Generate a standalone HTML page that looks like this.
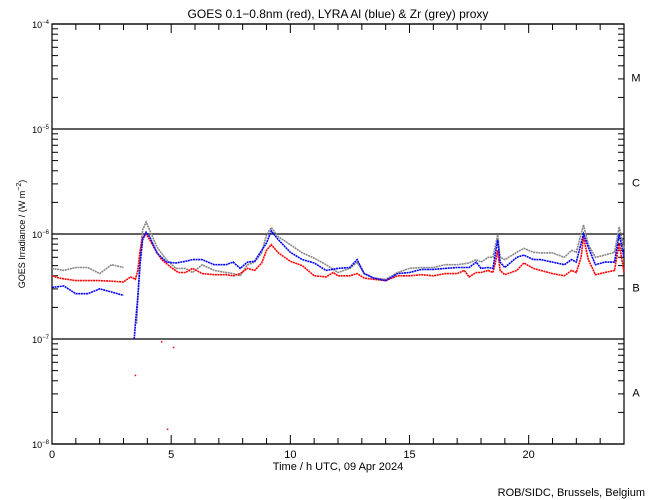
<!DOCTYPE html>
<html><head><meta charset="utf-8"><style>
body{margin:0;background:#fff;}
svg{display:block;font-family:"Liberation Sans",sans-serif;}
</style></head><body>
<svg id="chart" width="650" height="500" viewBox="0 0 650 500" xmlns="http://www.w3.org/2000/svg">
<rect width="650" height="500" fill="#fff"/>
<text x="338" y="18" font-size="12" text-anchor="middle">GOES 0.1−0.8nm (red), LYRA Al (blue) &amp; Zr (grey) proxy</text>
<g id="axes"></g>
<g id="series"></g>
<text x="338" y="470" font-size="11" text-anchor="middle">Time / h UTC, 09 Apr 2024</text>
<text x="0" y="0" font-size="9" text-anchor="middle" transform="translate(25,234) rotate(-90)">GOES Irradiance / (W m<tspan dy="-4" font-size="7">−2</tspan><tspan dy="4">)</tspan></text>
<text x="645" y="496" font-size="11" text-anchor="end">ROB/SIDC, Brussels, Belgium</text>
</svg>
<script>
const classLabels=["M","C","B","A"];
const decadeExps=[-4,-5,-6,-7,-8];
const xTickLabels=[0,5,10,15,20];
const redT=[0,0.3,1,2,3,3.3,3.5,3.6,3.7,3.8,3.95,4.1,4.3,4.6,5,5.3,5.6,5.9,6.3,6.8,7.3,7.6,7.9,8.2,8.5,8.8,9,9.2,9.5,10,10.5,11,11.5,11.8,12,12.5,12.8,13.1,13.5,14,14.5,15,15.5,16,16.5,17,17.3,17.5,17.8,18,18.3,18.5,18.6,18.7,18.8,19,19.5,19.8,20.2,20.5,21,21.5,21.8,22,22.2,22.3,22.5,22.8,23.2,23.6,23.8,24];
const redV=[0.40,0.38,0.36,0.36,0.35,0.39,0.37,0.45,0.70,0.92,1.0,0.88,0.73,0.57,0.48,0.43,0.43,0.47,0.42,0.41,0.41,0.40,0.42,0.47,0.45,0.53,0.70,0.79,0.66,0.55,0.50,0.40,0.39,0.43,0.40,0.40,0.42,0.38,0.37,0.36,0.40,0.40,0.41,0.40,0.42,0.42,0.45,0.39,0.43,0.43,0.45,0.43,0.53,0.70,0.45,0.41,0.45,0.53,0.47,0.45,0.42,0.40,0.45,0.43,0.60,0.94,0.57,0.41,0.43,0.45,0.82,0.43];
const blueT=[0,0.5,1,1.5,2,2.5,3,null,3.45,3.5,3.6,3.7,3.8,3.95,4.1,4.4,4.8,5.2,5.6,5.9,6.3,6.8,7.3,7.6,7.9,8.2,8.5,8.8,9,9.2,9.5,10,10.5,11,11.5,12,12.5,12.8,13.1,13.5,14,14.5,15,15.5,16,16.5,17,17.5,17.8,18,18.3,18.5,18.7,18.8,19,19.5,19.8,20.2,20.5,21,21.5,21.8,22,22.3,22.5,22.8,23.2,23.6,23.8,24];
const blueV=[0.31,0.32,0.27,0.27,0.30,0.28,0.26,null,0.10,0.14,0.25,0.53,0.88,1.04,0.94,0.66,0.54,0.53,0.55,0.57,0.57,0.51,0.51,0.54,0.47,0.54,0.55,0.70,0.82,1.07,0.88,0.67,0.57,0.53,0.45,0.47,0.48,0.57,0.42,0.38,0.36,0.42,0.43,0.46,0.46,0.47,0.48,0.48,0.54,0.47,0.48,0.47,0.88,0.54,0.48,0.60,0.63,0.57,0.57,0.54,0.51,0.57,0.54,1.0,0.75,0.51,0.54,0.54,1.0,0.60];
const greyT=[0,0.5,1,1.5,2,2.5,3,null,3.55,3.7,3.8,3.95,4.1,4.4,4.8,5.2,5.6,5.9,6.3,6.8,7.3,7.6,7.9,8.2,8.5,8.8,9,9.2,9.5,10,10.5,11,11.5,12,12.5,12.8,13.1,13.5,14,14.5,15,15.5,16,16.5,17,17.5,17.8,18,18.3,18.5,18.7,18.8,19,19.5,19.8,20.2,20.5,21,21.5,21.8,22,22.3,22.5,22.8,23.2,23.6,23.8,24];
const greyV=[0.47,0.45,0.48,0.48,0.42,0.51,0.48,null,0.14,0.66,1.09,1.30,1.09,0.75,0.57,0.47,0.47,0.43,0.51,0.45,0.43,0.42,0.40,0.51,0.54,0.66,0.98,1.15,0.94,0.79,0.66,0.59,0.51,0.43,0.47,0.54,0.42,0.38,0.37,0.43,0.47,0.48,0.48,0.51,0.51,0.53,0.57,0.54,0.60,0.60,0.98,0.60,0.57,0.67,0.73,0.67,0.66,0.66,0.60,0.70,0.67,1.22,0.79,0.60,0.63,0.67,1.17,0.73];
const redOutT=[4.85,4.6,5.1,3.5];
const redOutV=[0.0138,0.094,0.083,0.045];
const UNIT=1e-6;
const X0=52,X1=624,Y0=24,Y1=444;
const xs=t=>X0+(t/24)*(X1-X0);
const ys=v=>Y0+(-4-Math.log10(v))*((Y1-Y0)/4);
const NS="http://www.w3.org/2000/svg";
function mk(tag,attrs,parent){const e=document.createElementNS(NS,tag);for(const k in attrs)e.setAttribute(k,attrs[k]);parent.appendChild(e);return e;}
const ax=document.getElementById('axes');
const frame=mk('rect',{x:X0,y:Y0,width:X1-X0,height:Y1-Y0,fill:'none',stroke:'#000','stroke-width':1.2},ax);


decadeExps.forEach(e=>{
  const y=ys(Math.pow(10,e));
  const l=mk('line',{x1:X0,x2:X1,y1:y,y2:y,stroke:'#000','stroke-width':1.2},ax);
  
  
  const t=mk('text',{x:X0-3,y:y+4,'font-size':9,'text-anchor':'end'},ax);
  
  
  t.textContent='10';
  const s=mk('tspan',{dy:-4,'font-size':6},t);s.textContent=String(e).replace('-','−');
  if(e>-8){for(let m=2;m<=9;m++){const yy=ys(m*Math.pow(10,e-1));
    mk('line',{x1:X0,x2:X0+6,y1:yy,y2:yy,stroke:'#000'},ax);
    mk('line',{x1:X1-6,x2:X1,y1:yy,y2:yy,stroke:'#000'},ax);}}
});
classLabels.forEach((c,i)=>{
  const y=(ys(Math.pow(10,-4-i))+ys(Math.pow(10,-5-i)))/2;
  const t=mk('text',{x:636,y:y+5,'font-size':11,'text-anchor':'middle'},ax);
  
  
  t.textContent=c;
});
for(let h=1;h<24;h++){const x=xs(h),L=h%5===0?9:6;
  mk('line',{x1:x,x2:x,y1:Y1,y2:Y1-L,stroke:'#000'},ax);
  mk('line',{x1:x,x2:x,y1:Y0,y2:Y0+L,stroke:'#000'},ax);}
xTickLabels.forEach(h=>{
  const t=mk('text',{x:xs(h),y:458,'font-size':11,'text-anchor':'middle'},ax);
  
  
  t.textContent=h;
});
const sg=document.getElementById('series');
function drawSeries(T,V,color,name){
  let segs=[],cur=[];
  T.forEach((t,i)=>{if(t===null){if(cur.length)segs.push(cur);cur=[];}else cur.push(xs(t).toFixed(1)+','+ys(V[i]*UNIT).toFixed(1));});
  if(cur.length)segs.push(cur);
  segs.forEach(s=>{const p=mk('polyline',{points:s.join(' '),fill:'none',stroke:color,'stroke-width':1.6,'stroke-dasharray':'2 0.6'},sg);
    
    });
}
drawSeries(greyT,greyV,'#888','zr-grey-series');
drawSeries(redT,redV,'#f00','goes-red-series');
drawSeries(blueT,blueV,'#00f','al-blue-series');
redOutT.forEach((t,i)=>{
  const r=mk('rect',{x:xs(t)-0.75,y:ys(redOutV[i]*UNIT)-0.75,width:1.5,height:1.5,fill:'#f00'},sg);
  
  
});
</script>
</body></html>
